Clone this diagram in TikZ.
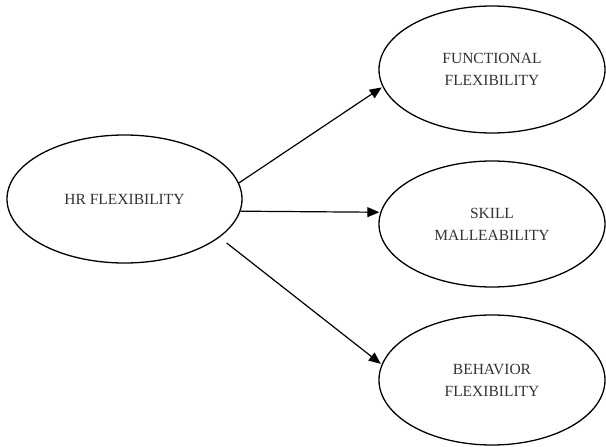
\documentclass[tikz,border=0pt]{standalone}
\usepackage{fontspec}
\setmainfont{Liberation Serif}
\usetikzlibrary{shapes.geometric,arrows.meta}
\tikzset{
  oval/.style={draw, ellipse, line width=1.3pt, inner sep=0pt, align=center,
    text=black!80, font=\fontsize{15.5}{22}\selectfont},
  link/.style={line width=1.2pt, -{Triangle[length=12pt,width=10pt]}, shorten >=1pt}
}
\begin{document}
\begin{tikzpicture}[x=1pt,y=-1pt]
\useasboundingbox (0,0) rectangle (606,447);
\node[oval, minimum width=235pt, minimum height=128pt] (hr) at (124.5,199) {HR FLEXIBILITY};
\node[oval, minimum width=226pt, minimum height=127pt] (ff) at (492,69.5) {FUNCTIONAL\\FLEXIBILITY};
\node[oval, minimum width=226pt, minimum height=126pt] (sm) at (492,224) {SKILL\\MALLEABILITY};
\node[oval, minimum width=226pt, minimum height=130pt] (bf) at (492,380) {BEHAVIOR\\FLEXIBILITY};
\draw[link] (hr.8.4) -- (ff.189.7);
\draw[link] (hr.-6.4) -- (sm.174);
\draw[link, shorten <=9pt] (hr.-22) -- (bf.172.5);
\end{tikzpicture}
\end{document}
